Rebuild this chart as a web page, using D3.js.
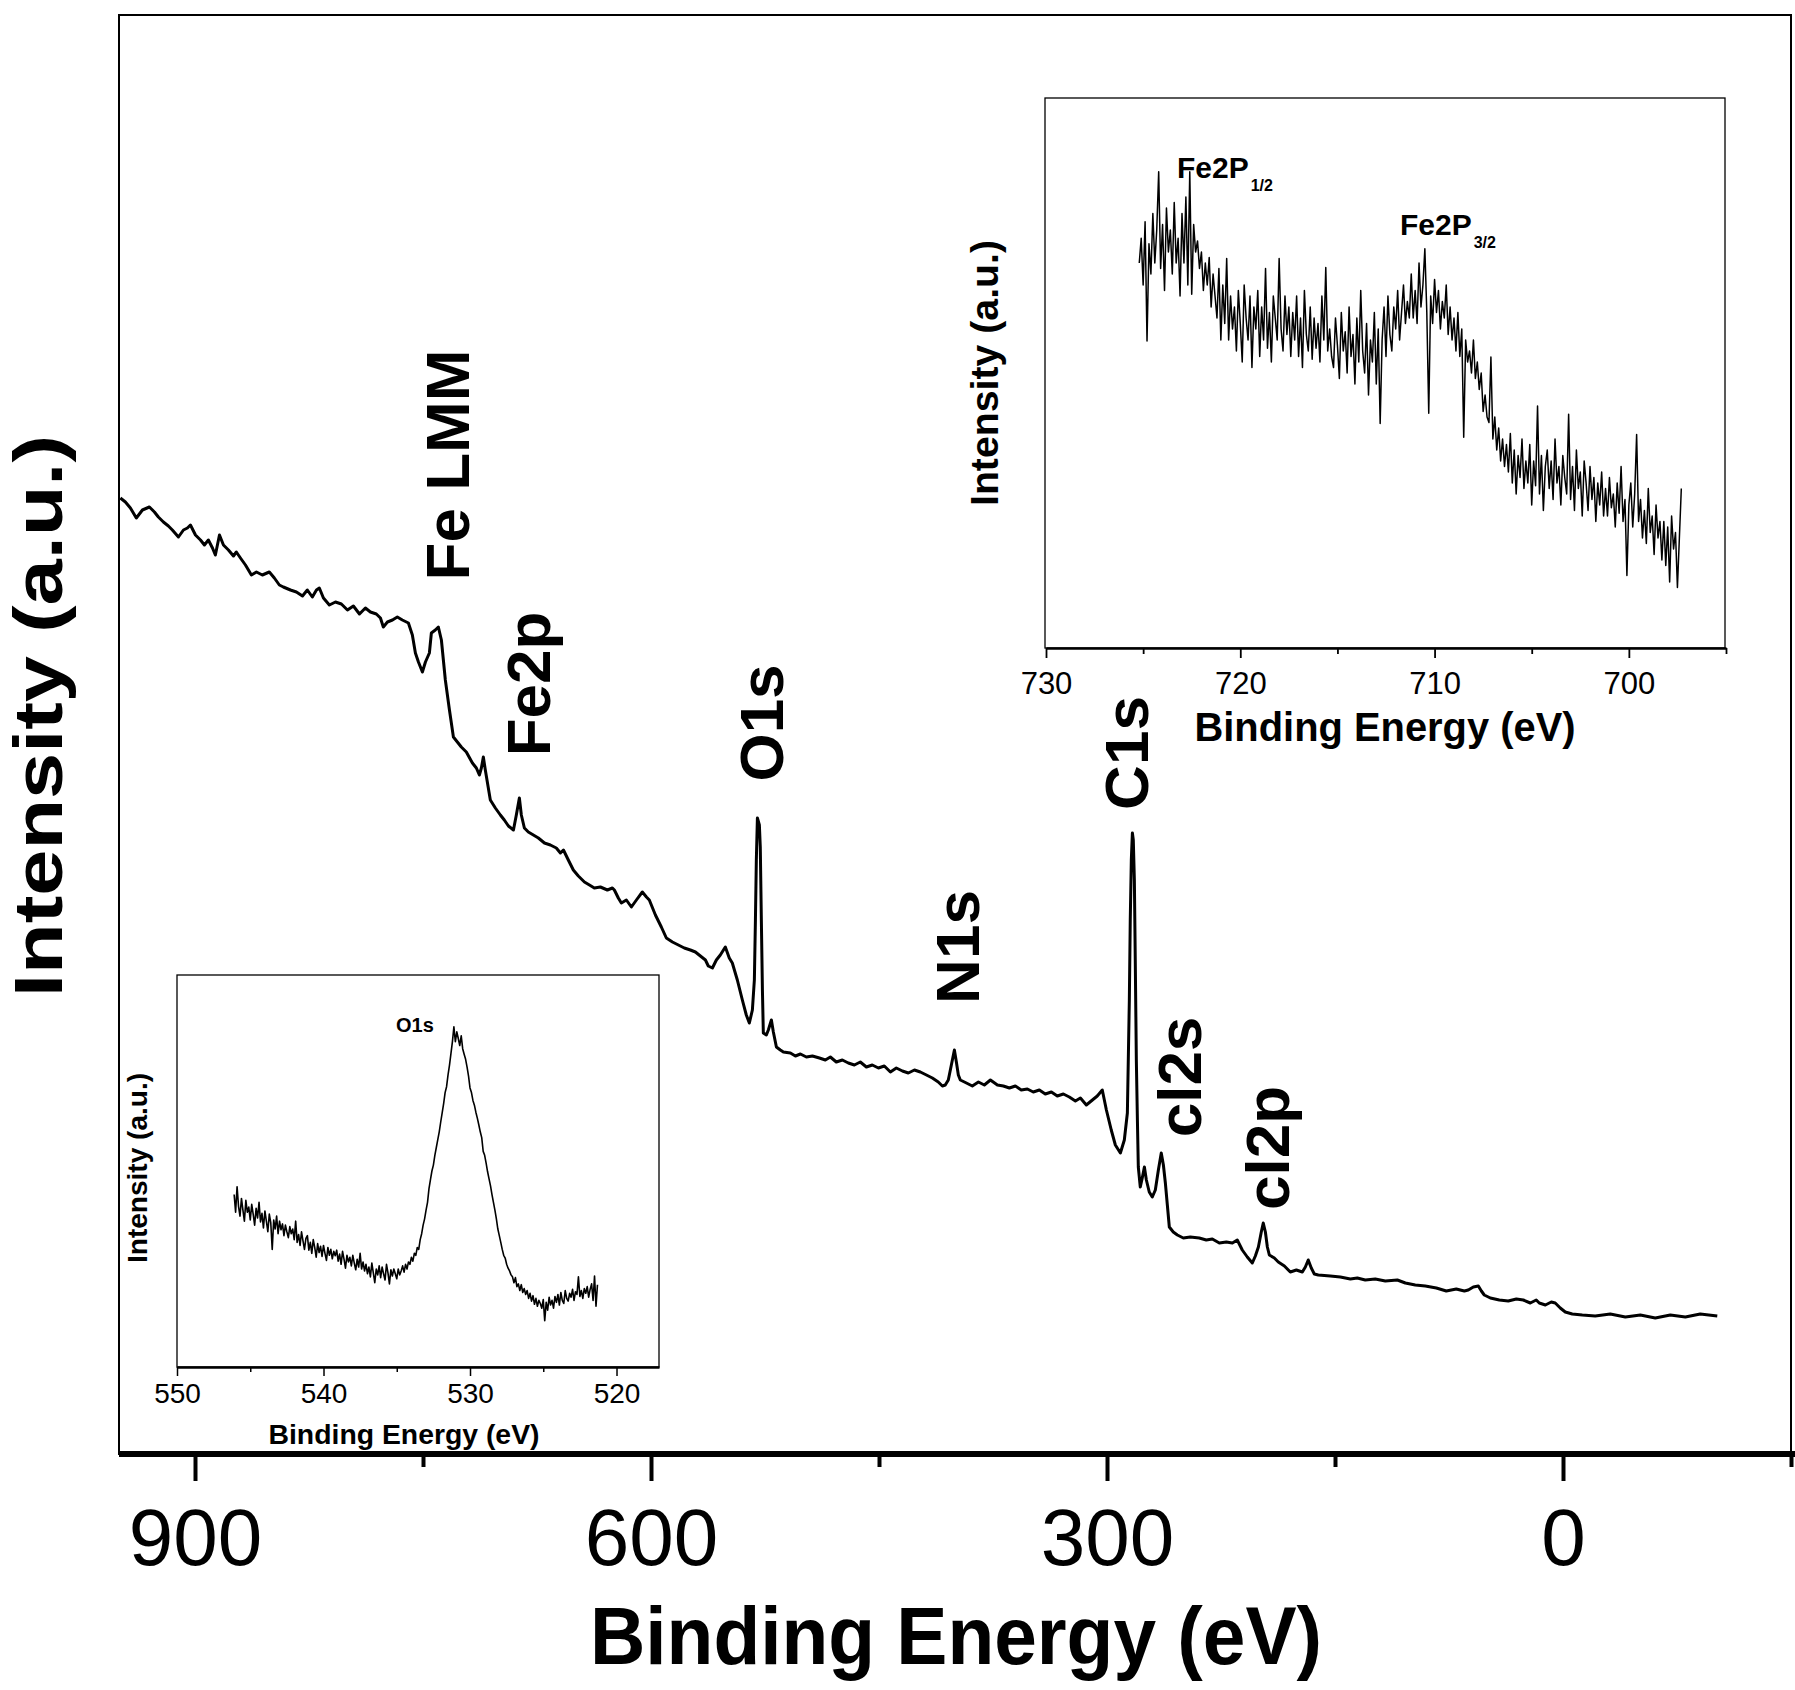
<!DOCTYPE html>
<html><head><meta charset="utf-8">
<script src="https://cdn.jsdelivr.net/npm/d3@7"></script>
<style>html,body{margin:0;padding:0;background:#fff}svg{display:block}</style>
</head><body><svg id="chart" width="1795" height="1690"></svg>
<script>
// ---------------- DATA ----------------
// Survey spectrum: binding energy (eV) and intensity (a.u.)
const surveyEnergy = [
949.1,945.8,942.5,938.6,934.6,930.0,926.7,924.1,920.8,917.5,
914.9,910.9,907.6,905.0,903.0,899.7,896.4,893.8,891.2,888.5,
886.6,883.9,881.3,878.0,874.7,872.8,870.1,866.8,862.9,859.6,
855.7,851.1,847.8,844.5,841.9,837.2,833.3,829.3,826.1,822.8,
820.1,818.2,815.5,811.6,807.6,803.7,799.7,795.8,791.8,787.9,
784.6,780.7,778.0,776.1,773.4,770.1,766.9,763.6,759.6,757.0,
755.0,753.0,750.4,748.4,745.8,744.5,741.9,739.9,737.9,735.3,
732.6,730.0,727.4,724.8,721.5,717.5,714.9,712.9,711.6,710.3,
709.0,705.7,702.4,699.1,696.5,693.8,690.5,688.6,686.6,685.3,
683.3,680.7,677.4,674.1,670.1,666.2,662.3,659.6,657.6,654.4,
651.1,647.8,643.8,640.5,637.3,633.3,628.7,625.4,624.1,621.5,
619.5,616.2,612.9,609.6,605.7,603.0,601.1,597.1,593.2,589.9,
585.9,582.0,578.1,574.1,570.8,567.5,564.2,562.3,559.6,557.0,
554.4,551.1,548.5,546.5,543.2,539.9,537.3,535.3,533.3,532.0,
531.3,530.7,530.0,528.7,528.1,527.4,526.7,526.1,524.1,522.8,
520.8,519.5,517.5,514.9,512.9,508.3,505.0,501.7,497.8,493.8,
489.2,485.3,482.0,478.1,474.1,470.2,466.2,462.3,458.3,454.4,
450.4,446.5,442.5,438.6,434.6,430.7,426.7,422.8,418.8,414.9,
411.0,408.3,406.4,404.4,402.4,400.4,399.1,397.8,396.5,392.5,
388.6,384.6,380.7,376.7,372.1,368.2,364.2,360.3,356.4,352.4,
348.5,344.5,340.6,336.6,332.7,328.7,324.8,320.8,317.5,313.6,
309.6,306.4,303.1,300.4,297.2,294.5,291.2,288.6,286.6,285.3,
284.7,284.0,283.3,282.7,282.0,281.4,280.7,280.0,279.4,278.1,
276.8,275.4,274.1,272.2,270.2,268.2,266.2,264.3,262.9,261.6,
260.3,259.0,256.4,253.7,249.8,245.2,239.3,234.7,230.7,226.1,
221.5,217.5,214.3,211.0,207.7,204.4,202.4,200.4,198.5,197.2,
195.8,194.5,193.2,189.9,187.3,183.3,179.4,175.4,171.5,169.5,
167.6,165.6,163.6,161.0,153.1,146.5,139.9,135.3,130.1,123.5,
116.9,109.0,103.7,97.2,90.6,83.3,76.8,70.2,64.9,62.3,
59.0,55.7,53.7,51.8,47.8,41.9,36.0,30.7,26.1,21.5,
17.6,15.6,11.6,7.7,5.1,1.8,-1.5,-6.1,-12.7,-21.2,
-31.1,-41.0,-50.9,-60.7,-70.6,-80.5,-90.3,-101.5
];
const surveyIntensity = [
958,954,948,938,946,949,944,939,934,930,
926,919,926,928,931,921,916,911,916,908,
901,921,911,906,900,904,898,891,881,884,
881,884,878,871,869,866,864,860,866,859,
866,868,858,851,854,852,846,850,842,848,
844,842,838,829,834,836,839,836,833,821,
803,794,784,794,803,823,826,829,816,776,
746,719,714,709,704,693,688,681,688,699,
686,656,648,641,636,630,626,641,658,641,
628,624,621,618,613,611,608,603,606,596,
586,580,574,571,568,569,566,568,566,558,
553,556,549,556,564,559,556,541,529,518,
514,511,508,506,504,500,496,490,488,496,
501,509,498,493,476,456,441,433,446,476,
536,596,638,631,609,536,466,423,421,426,
436,424,409,406,404,403,400,402,399,400,
398,396,399,394,396,393,391,394,389,391,
388,390,384,388,385,383,386,384,381,378,
374,370,371,376,391,406,394,381,376,373,
370,374,371,376,371,370,368,370,366,367,
364,366,362,364,360,362,359,355,358,351,
356,360,366,346,326,311,303,316,343,456,
536,596,623,616,576,496,396,336,289,269,
278,289,276,264,259,266,286,303,291,273,
251,229,224,221,218,219,218,216,217,213,
214,213,216,206,199,193,200,209,224,233,
224,209,201,198,194,190,184,186,184,189,
196,188,182,181,180,179,177,178,176,177,
175,176,173,171,170,168,165,167,165,166,
169,170,165,161,158,156,155,157,156,153,
156,153,151,154,153,148,144,142,141,140,
142,139,141,138,141,139,142,140
];
const mainTicks = [900, 600, 300, 0];
const mainMinorTicks = [750, 450, 150, -150];

// Peak annotations (anchor energy / intensity in data units)
const peakNames = ["Fe LMM", "Fe2p", "O1s", "N1s", "C1s", "cl2s", "cl2p"];
const peakLabelEnergy = [719.5, 666.2, 513.0, 384.0, 273.1, 238.0, 180.1];
const peakLabelIntensity = [991, 772, 733, 509, 703, 379, 308];

// O1s high-resolution inset (uniform 0.1 eV grid)
const o1sStartEnergy = 546.1, o1sStepEnergy = 0.1;
const o1sIntensity = [
440,395,460,410,385,430,400,372,425,395,
408,375,415,390,362,405,380,420,370,392,
355,398,372,345,390,368,300,375,352,385,
340,372,350,365,335,362,345,330,358,340,
352,325,372,318,338,310,345,322,300,328,
335,298,318,290,325,305,280,315,292,308,
282,310,290,272,305,285,300,276,295,284,
298,270,288,262,295,275,252,285,268,280,
258,285,265,248,275,255,290,250,268,245,
262,238,255,230,265,240,215,250,235,258,
228,255,238,222,262,240,212,248,232,250,
238,225,250,235,245,258,242,262,250,268,
262,280,270,290,285,305,300,325,340,362,
378,400,420,455,478,500,515,540,560,580,
600,625,648,672,700,715,745,770,800,830,
868,830,855,838,820,845,812,798,785,765,
742,712,700,680,668,650,635,618,600,585,
550,540,520,498,480,462,440,420,400,378,
352,335,318,300,285,278,262,252,245,235,
230,215,228,205,212,195,210,190,200,185,
195,175,188,168,182,160,175,155,170,162,
150,172,118,165,145,178,158,170,150,180,
165,185,158,190,170,162,195,175,168,188,
178,198,170,192,185,230,180,195,175,200,
188,205,178,198,212,170,232,155,210
];
const o1sTicks = [550, 540, 530, 520];
const o1sMinorTicks = [545, 535, 525];

// Fe 2p high-resolution inset (uniform 0.1 eV grid)
const fe2pStartEnergy = 725.2, fe2pStepEnergy = 0.1;
const fe2pIntensity = [
700,745,660,775,558,735,680,790,700,760,
866,690,770,650,800,720,760,680,810,700,
745,640,790,700,820,660,866,643,770,720,
740,690,720,650,700,660,710,620,680,640,
600,690,560,660,590,708,560,640,580,620,
540,650,590,520,660,600,560,640,510,620,
580,650,530,620,560,690,545,610,520,640,
600,560,708,580,540,640,570,620,530,610,
560,640,530,600,510,650,570,540,620,525,
600,545,590,520,640,560,692,540,580,530,
510,600,550,490,610,540,575,500,620,530,
570,480,600,520,650,540,500,590,460,560,
520,610,480,580,408,560,620,530,640,570,
540,620,580,650,560,610,660,590,630,600,
680,600,650,590,700,620,660,726,610,427,
640,590,670,610,650,580,630,600,660,570,
620,560,600,540,610,530,580,383,560,520,
540,500,560,490,520,470,500,430,460,420,
410,529,380,420,360,400,340,380,330,370,
320,390,300,360,280,350,310,380,290,340,
300,370,260,340,295,440,280,350,250,330,
360,290,340,270,380,300,330,260,350,310,
280,425,270,330,250,360,290,320,240,340,
300,250,330,270,310,230,300,260,320,240,
290,240,310,255,280,220,300,245,330,230,
270,132,260,300,220,280,388,230,270,200,
250,190,290,210,240,170,260,200,230,160,
230,150,220,120,240,180,210,110,200,290
];
const fe2pTicks = [730, 720, 710, 700];
const fe2pMinorTicks = [725, 715, 705, 695];

// ---------------- DRAWING ----------------
const FONT = "'Liberation Sans', Arial, Helvetica, sans-serif";
const svg = d3.select("#chart");
svg.append("rect").attr("width", 1795).attr("height", 1690).attr("fill", "#fff");

function styleAxis(g, domainW, tickW, fontSize) {
  g.attr("font-family", FONT).attr("font-size", fontSize);
  g.select(".domain").attr("stroke", "#000").attr("stroke-width", domainW);
  g.selectAll(".tick line").attr("stroke", "#000").attr("stroke-width", tickW);
  g.selectAll(".tick text").attr("fill", "#000");
}

// Main plot
const xMain = d3.scaleLinear().domain([950, -150]).range([119, 1791]);
const yMain = d3.scaleLinear().domain([0, 1441]).range([1456, 15]);

svg.append("rect").attr("x", 119).attr("y", 15).attr("width", 1672).attr("height", 1439)
  .attr("fill", "none").attr("stroke", "#000").attr("stroke-width", 2);

const surveyData = d3.zip(surveyEnergy, surveyIntensity);
svg.append("path").datum(surveyData)
  .attr("fill", "none").attr("stroke", "#000").attr("stroke-width", 3)
  .attr("stroke-linejoin", "round")
  .attr("d", d3.line().x(d => xMain(d[0])).y(d => yMain(d[1])));

const gMainMinor = svg.append("g").attr("transform", "translate(0,1454)")
  .call(d3.axisBottom(xMain).tickValues(mainMinorTicks).tickSize(13).tickSizeOuter(0).tickFormat(""));
gMainMinor.select(".domain").remove();
gMainMinor.selectAll(".tick line").attr("stroke", "#000").attr("stroke-width", 4);

const gMain = svg.append("g").attr("transform", "translate(0,1454)")
  .call(d3.axisBottom(xMain).tickValues(mainTicks).tickSize(27).tickPadding(27).tickSizeOuter(0).tickFormat(d3.format("d")));
styleAxis(gMain, 6, 4, 80);
gMain.select(".domain").attr("d", "M119,0H1795");

svg.append("text").attr("x", 956).attr("y", 1664).attr("text-anchor", "middle")
  .attr("font-family", FONT).attr("font-weight", "bold").attr("font-size", 82)
  .attr("textLength", 732).attr("lengthAdjust", "spacingAndGlyphs")
  .text("Binding Energy (eV)");

svg.append("text").attr("transform", "translate(62,716) rotate(-90)").attr("text-anchor", "middle")
  .attr("font-family", FONT).attr("font-weight", "bold").attr("font-size", 68)
  .attr("textLength", 562).attr("lengthAdjust", "spacingAndGlyphs")
  .text("Intensity (a.u.)");

// Peak labels
peakNames.forEach((name, i) => {
  svg.append("text")
    .attr("transform", `translate(${xMain(peakLabelEnergy[i])},${yMain(peakLabelIntensity[i])}) rotate(-90)`)
    .attr("text-anchor", "middle")
    .attr("font-family", FONT).attr("font-weight", "bold").attr("font-size", 62)
    .text(name);
});

// ---------- O1s inset (bottom-left) ----------
const xO = d3.scaleLinear().domain([550, 517.1]).range([177, 659]);
const yO = d3.scaleLinear().domain([0, 1000]).range([1367, 975]);
svg.append("rect").attr("x", 177).attr("y", 975).attr("width", 482).attr("height", 392)
  .attr("fill", "#fff").attr("stroke", "#000").attr("stroke-width", 1.3);
svg.append("path").datum(o1sIntensity)
  .attr("fill", "none").attr("stroke", "#000").attr("stroke-width", 1.6).attr("stroke-linejoin", "round")
  .attr("d", d3.line().x((d, i) => xO(o1sStartEnergy - i * o1sStepEnergy)).y(d => yO(d)));
const gOMinor = svg.append("g").attr("transform", "translate(0,1367)")
  .call(d3.axisBottom(xO).tickValues(o1sMinorTicks).tickSize(5).tickSizeOuter(0).tickFormat(""));
gOMinor.select(".domain").remove();
gOMinor.selectAll(".tick line").attr("stroke", "#000").attr("stroke-width", 1.5);
const gO = svg.append("g").attr("transform", "translate(0,1367)")
  .call(d3.axisBottom(xO).tickValues(o1sTicks).tickSize(9).tickPadding(7).tickSizeOuter(0).tickFormat(d3.format("d")));
styleAxis(gO, 2.5, 1.5, 28);
svg.append("text").attr("x", 404).attr("y", 1444).attr("text-anchor", "middle")
  .attr("font-family", FONT).attr("font-weight", "bold").attr("font-size", 28)
  .attr("textLength", 271).attr("lengthAdjust", "spacingAndGlyphs")
  .text("Binding Energy (eV)");
svg.append("text").attr("transform", "translate(147,1168) rotate(-90)").attr("text-anchor", "middle")
  .attr("font-family", FONT).attr("font-weight", "bold").attr("font-size", 27)
  .attr("textLength", 190).attr("lengthAdjust", "spacingAndGlyphs")
  .text("Intensity (a.u.)");
svg.append("text").attr("x", 396).attr("y", 1032)
  .attr("font-family", FONT).attr("font-weight", "bold").attr("font-size", 20)
  .text("O1s");

// ---------- Fe 2p inset (top-right) ----------
const xF = d3.scaleLinear().domain([730, 695]).range([1046, 1726]);
const yF = d3.scaleLinear().domain([0, 1000]).range([648, 98]);
svg.append("rect").attr("x", 1045).attr("y", 98).attr("width", 680).attr("height", 550)
  .attr("fill", "#fff").attr("stroke", "#000").attr("stroke-width", 1.3);
svg.append("path").datum(fe2pIntensity)
  .attr("fill", "none").attr("stroke", "#000").attr("stroke-width", 1.5).attr("stroke-linejoin", "round")
  .attr("d", d3.line().x((d, i) => xF(fe2pStartEnergy - i * fe2pStepEnergy)).y(d => yF(d)));
const gFMinor = svg.append("g").attr("transform", "translate(0,648)")
  .call(d3.axisBottom(xF).tickValues(fe2pMinorTicks).tickSize(6).tickSizeOuter(0).tickFormat(""));
gFMinor.select(".domain").remove();
gFMinor.selectAll(".tick line").attr("stroke", "#000").attr("stroke-width", 1.8);
const gF = svg.append("g").attr("transform", "translate(0,648)")
  .call(d3.axisBottom(xF).tickValues(fe2pTicks).tickSize(10).tickPadding(14).tickSizeOuter(0).tickFormat(d3.format("d")));
styleAxis(gF, 2.5, 1.8, 31);
svg.append("text").attr("x", 1385).attr("y", 741).attr("text-anchor", "middle")
  .attr("font-family", FONT).attr("font-weight", "bold").attr("font-size", 40)
  .attr("textLength", 381).attr("lengthAdjust", "spacingAndGlyphs")
  .text("Binding Energy (eV)");
svg.append("text").attr("transform", "translate(998,373) rotate(-90)").attr("text-anchor", "middle")
  .attr("font-family", FONT).attr("font-weight", "bold").attr("font-size", 38)
  .attr("textLength", 266).attr("lengthAdjust", "spacingAndGlyphs")
  .text("Intensity (a.u.)");

function subLabel(x, y, main, sub) {
  const t = svg.append("text").attr("x", x).attr("y", y)
    .attr("font-family", FONT).attr("font-weight", "bold").attr("font-size", 30);
  t.append("tspan").text(main);
  t.append("tspan").attr("font-size", 16).attr("dx", 2).attr("dy", 13).text(sub);
}
subLabel(1177, 178, "Fe2P", "1/2");
subLabel(1400, 235, "Fe2P", "3/2");
</script>
</body></html>
